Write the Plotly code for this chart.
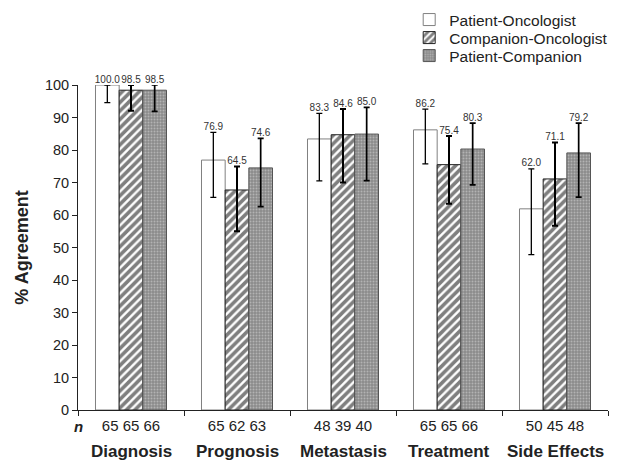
import plotly.graph_objects as go

categories = ["Diagnosis", "Prognosis", "Metastasis", "Treatment", "Side Effects"]
series_names = ["Patient-Oncologist", "Companion-Oncologist", "Patient-Companion"]

# drawn bar heights (% agreement)
po_values = [100.0, 76.9, 83.4, 86.2, 61.9]
co_values = [98.4, 67.7, 84.7, 75.5, 71.1]
pc_values = [98.4, 74.5, 84.9, 80.3, 79.1]

# printed value labels
po_labels = ["100.0", "76.9", "83.3", "86.2", "62.0"]
co_labels = ["98.5", "64.5", "84.6", "75.4", "71.1"]
pc_labels = ["98.5", "74.6", "85.0", "80.3", "79.2"]

# confidence interval limits (upper, lower)
po_upper = [100.0, 85.4, 91.3, 92.6, 74.2]
po_lower = [94.6, 65.4, 70.5, 75.7, 47.8]
co_upper = [100.0, 74.9, 92.6, 84.3, 82.3]
co_lower = [92.1, 55.0, 70.0, 63.5, 56.7]
pc_upper = [100.0, 83.6, 93.1, 88.3, 88.3]
pc_lower = [91.9, 62.6, 70.6, 69.3, 65.5]

# sample sizes
n_po = [65, 65, 48, 65, 50]
n_co = [65, 62, 39, 65, 45]
n_pc = [66, 63, 40, 66, 48]

y_ticks = [0, 10, 20, 30, 40, 50, 60, 70, 80, 90, 100]

FONT = "Liberation Sans, Arial, Helvetica, sans-serif"

styles = [
    dict(color="white", line=dict(color="#808080", width=1), pattern=None, err_w=1.3),
    dict(color="white", line=dict(color="#222222", width=1),
         pattern=dict(shape="/", fgcolor="#000000", bgcolor="white", size=6, solidity=0.6),
         err_w=2.0),
    dict(color="#8e8e8e", line=dict(color="#555555", width=1),
         pattern=dict(shape=".", fgcolor="#dcdcdc", bgcolor="#8a8a8a", size=3, solidity=0.35),
         err_w=1.7),
]

values = [po_values, co_values, pc_values]
labels = [po_labels, co_labels, pc_labels]
uppers = [po_upper, co_upper, pc_upper]
lowers = [po_lower, co_lower, pc_lower]
legend_ids = ["legend", "legend2", "legend3"]
legend_y = [0.974, 0.9349, 0.8959]

fig = go.Figure()
for i, name in enumerate(series_names):
    st = styles[i]
    v = values[i]
    plus = [u - b for u, b in zip(uppers[i], v)]
    minus = [b - l for b, l in zip(v, lowers[i])]
    marker = dict(color=st["color"], line=st["line"])
    if st["pattern"]:
        marker["pattern"] = st["pattern"]
    fig.add_trace(go.Bar(
        x=categories, y=v, name=name, marker=marker,
        offsetgroup=str(i), alignmentgroup="a", legend=legend_ids[i],
        error_y=dict(type="data", symmetric=False, array=plus, arrayminus=minus,
                     color="black", thickness=st["err_w"], width=3),
        cliponaxis=False,
    ))
for i, name in enumerate(series_names):
    fig.add_trace(go.Scatter(
        x=categories, y=uppers[i], mode="text", text=labels[i],
        textposition="top center", textfont=dict(size=10, color="#333333", family=FONT),
        offsetgroup=str(i), alignmentgroup="s",
        showlegend=False, cliponaxis=False, hoverinfo="skip",
    ))

n_text = [f"{a} {b} {c}" for a, b, c in zip(n_po, n_co, n_pc)]

legend_common = dict(xref="container", yref="container", x=0.645, xanchor="left",
                     yanchor="middle", font=dict(size=15.5, color="#222222", family=FONT),
                     bgcolor="rgba(0,0,0,0)", itemwidth=30)

fig.update_layout(
    width=622, height=461,
    margin=dict(l=70, r=22, t=77, b=59, autoexpand=False),
    plot_bgcolor="white", paper_bgcolor="white",
    barmode="group", bargap=0.33, bargroupgap=0,
    scattermode="group", scattergap=0.33,
    font=dict(family=FONT, color="#222222"),
    showlegend=True,
    legend=dict(legend_common, y=legend_y[0]),
    legend2=dict(legend_common, y=legend_y[1]),
    legend3=dict(legend_common, y=legend_y[2]),
    xaxis=dict(
        tickmode="array", tickvals=categories, ticktext=n_text,
        tickson="boundaries", ticks="outside", ticklen=5, tickcolor="#222222",
        showline=True, linecolor="#222222", linewidth=1,
        tickfont=dict(size=15, color="#222222"), automargin=False,
        ticklabelstandoff=2,
        showgrid=False, zeroline=False,
    ),
    yaxis=dict(
        range=[0, 100], tickvals=y_ticks, ticks="outside", ticklen=5,
        tickcolor="#222222", showline=True, linecolor="#222222", linewidth=1,
        tickfont=dict(size=14.5, color="#222222"), automargin=False,
        showgrid=False, zeroline=False,
        title=dict(text="<b>% Agreement</b>", font=dict(size=18, color="#222222"), standoff=11),
    ),
)

for c in categories:
    fig.add_annotation(x=c, y=-0.128, xref="x", yref="paper", text=f"<b>{c}</b>",
                       showarrow=False, yanchor="middle", xanchor="center",
                       font=dict(size=17, color="#222222", family=FONT))
fig.add_annotation(x=0, y=-0.051, xref="paper", yref="paper", text="<b><i>n</i></b>",
                   showarrow=False, yanchor="middle", xanchor="center",
                   font=dict(size=15, color="#222222", family=FONT))

fig.write_html("out.html")
